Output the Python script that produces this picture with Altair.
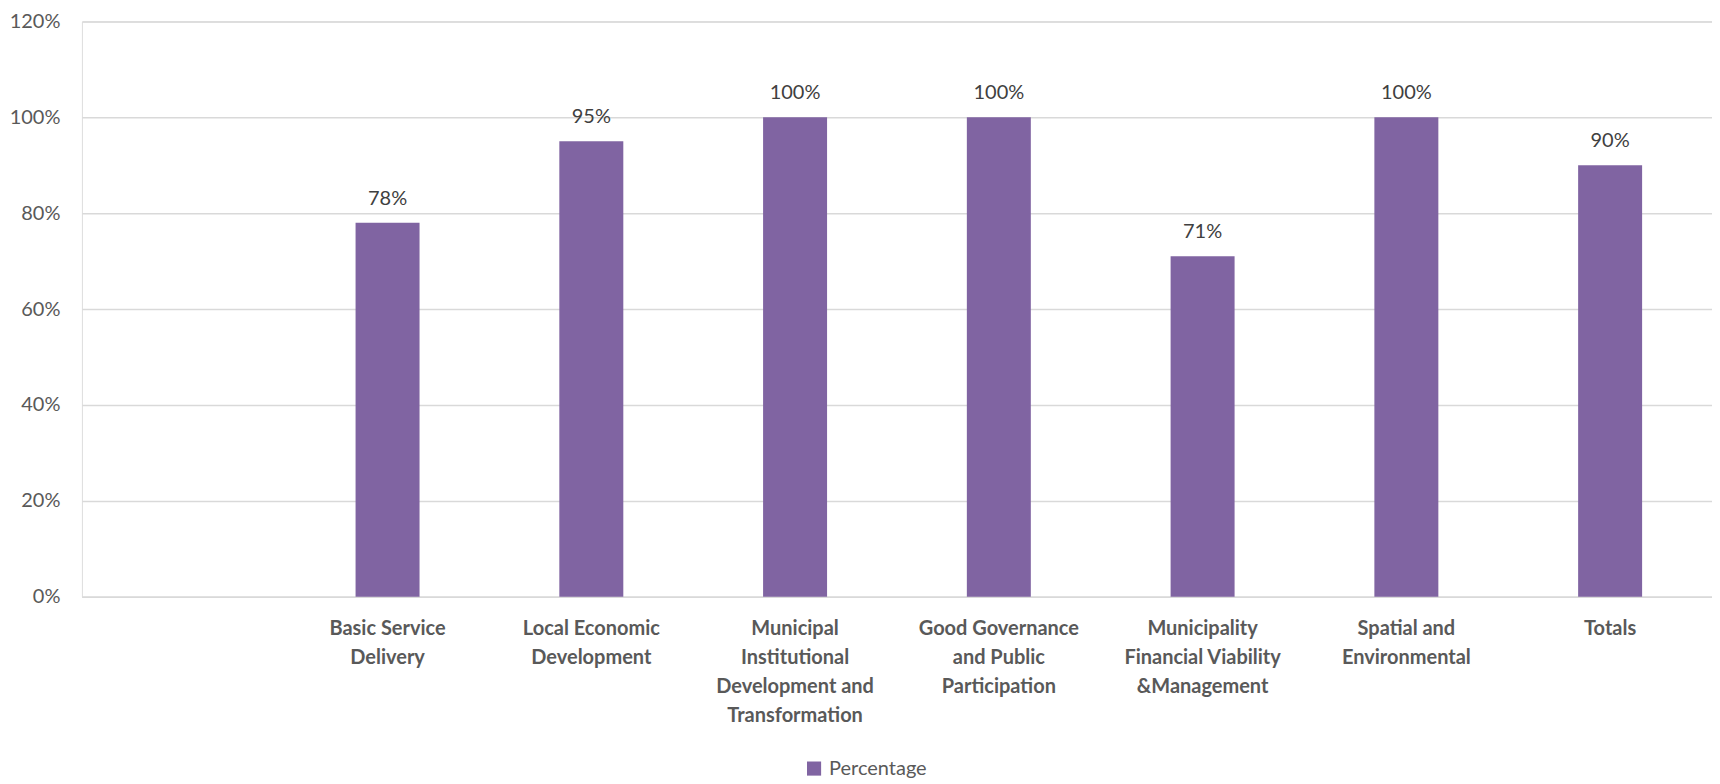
import altair as alt
import pandas as pd

categories = [
    "Basic Service|Delivery",
    "Local Economic|Development",
    "Municipal|Institutional|Development and|Transformation",
    "Good Governance|and Public|Participation",
    "Municipality|Financial Viability|&Management",
    "Spatial and|Environmental",
    "Totals",
]
values = [0.78, 0.95, 1.00, 1.00, 0.71, 1.00, 0.90]
series_name = "Percentage"
y_ticks = [0, 0.2, 0.4, 0.6, 0.8, 1.0, 1.2]

domain = [" "] + categories
df = pd.DataFrame({"category": categories, "value": values, "series": series_name})

FONT = "Lato"
PURPLE = "#8064A2"

xscale = alt.Scale(domain=domain, paddingInner=0.686, paddingOuter=0.343)

x = alt.X(
    "category:N",
    scale=xscale,
    sort=domain,
    axis=alt.Axis(
        title=None,
        labelExpr="split(datum.label, '|')",
        labelAngle=0,
        labelFont=FONT,
        labelFontSize=20,
        labelFontWeight="bold",
        labelColor="#595959",
        labelLineHeight=29,
        labelPadding=22,
        labelBaseline="top",
        ticks=False,
        domainColor="#D9D9D9",
        domainWidth=1.5,
        labelLimit=300,
    ),
)
y = alt.Y(
    "value:Q",
    scale=alt.Scale(domain=[0, 1.2], nice=False),
    axis=alt.Axis(
        title=None,
        values=y_ticks,
        format=".0%",
        labelFont=FONT,
        labelFontSize=20,
        labelColor="#595959",
        labelPadding=22,
        ticks=False,
        domain=False,
        gridColor="#D9D9D9",
        gridWidth=1.5,
    ),
)

bars = alt.Chart(df).mark_bar(color=PURPLE).encode(
    x=x,
    y=y,
    color=alt.Color(
        "series:N",
        scale=alt.Scale(domain=[series_name], range=[PURPLE]),
        legend=alt.Legend(
            title=None,
            orient="none",
            legendX=723,
            legendY=738,
            symbolType="square",
            symbolSize=200,
            symbolStrokeWidth=0,
            labelFont=FONT,
            labelFontSize=20,
            labelColor="#595959",
            labelOffset=5,
        ),
    ),
)

labels = alt.Chart(df).mark_text(
    font=FONT, fontSize=20, color="#404040", baseline="alphabetic", dy=-18
).encode(
    x=alt.X("category:N", scale=xscale, sort=domain),
    y=alt.Y("value:Q"),
    text=alt.Text("value:Q", format=".0%"),
)

chart = (
    alt.layer(bars, labels)
    .properties(
        width=1632,
        height=576,
        autosize=alt.AutoSizeParams(type="none"),
        padding={"left": 74, "top": 13, "right": 0, "bottom": 187},
    )
    .configure_view(stroke=None)
    .configure(background="white")
)

chart.save("out.html", embed_options={"renderer": "svg", "actions": False})
